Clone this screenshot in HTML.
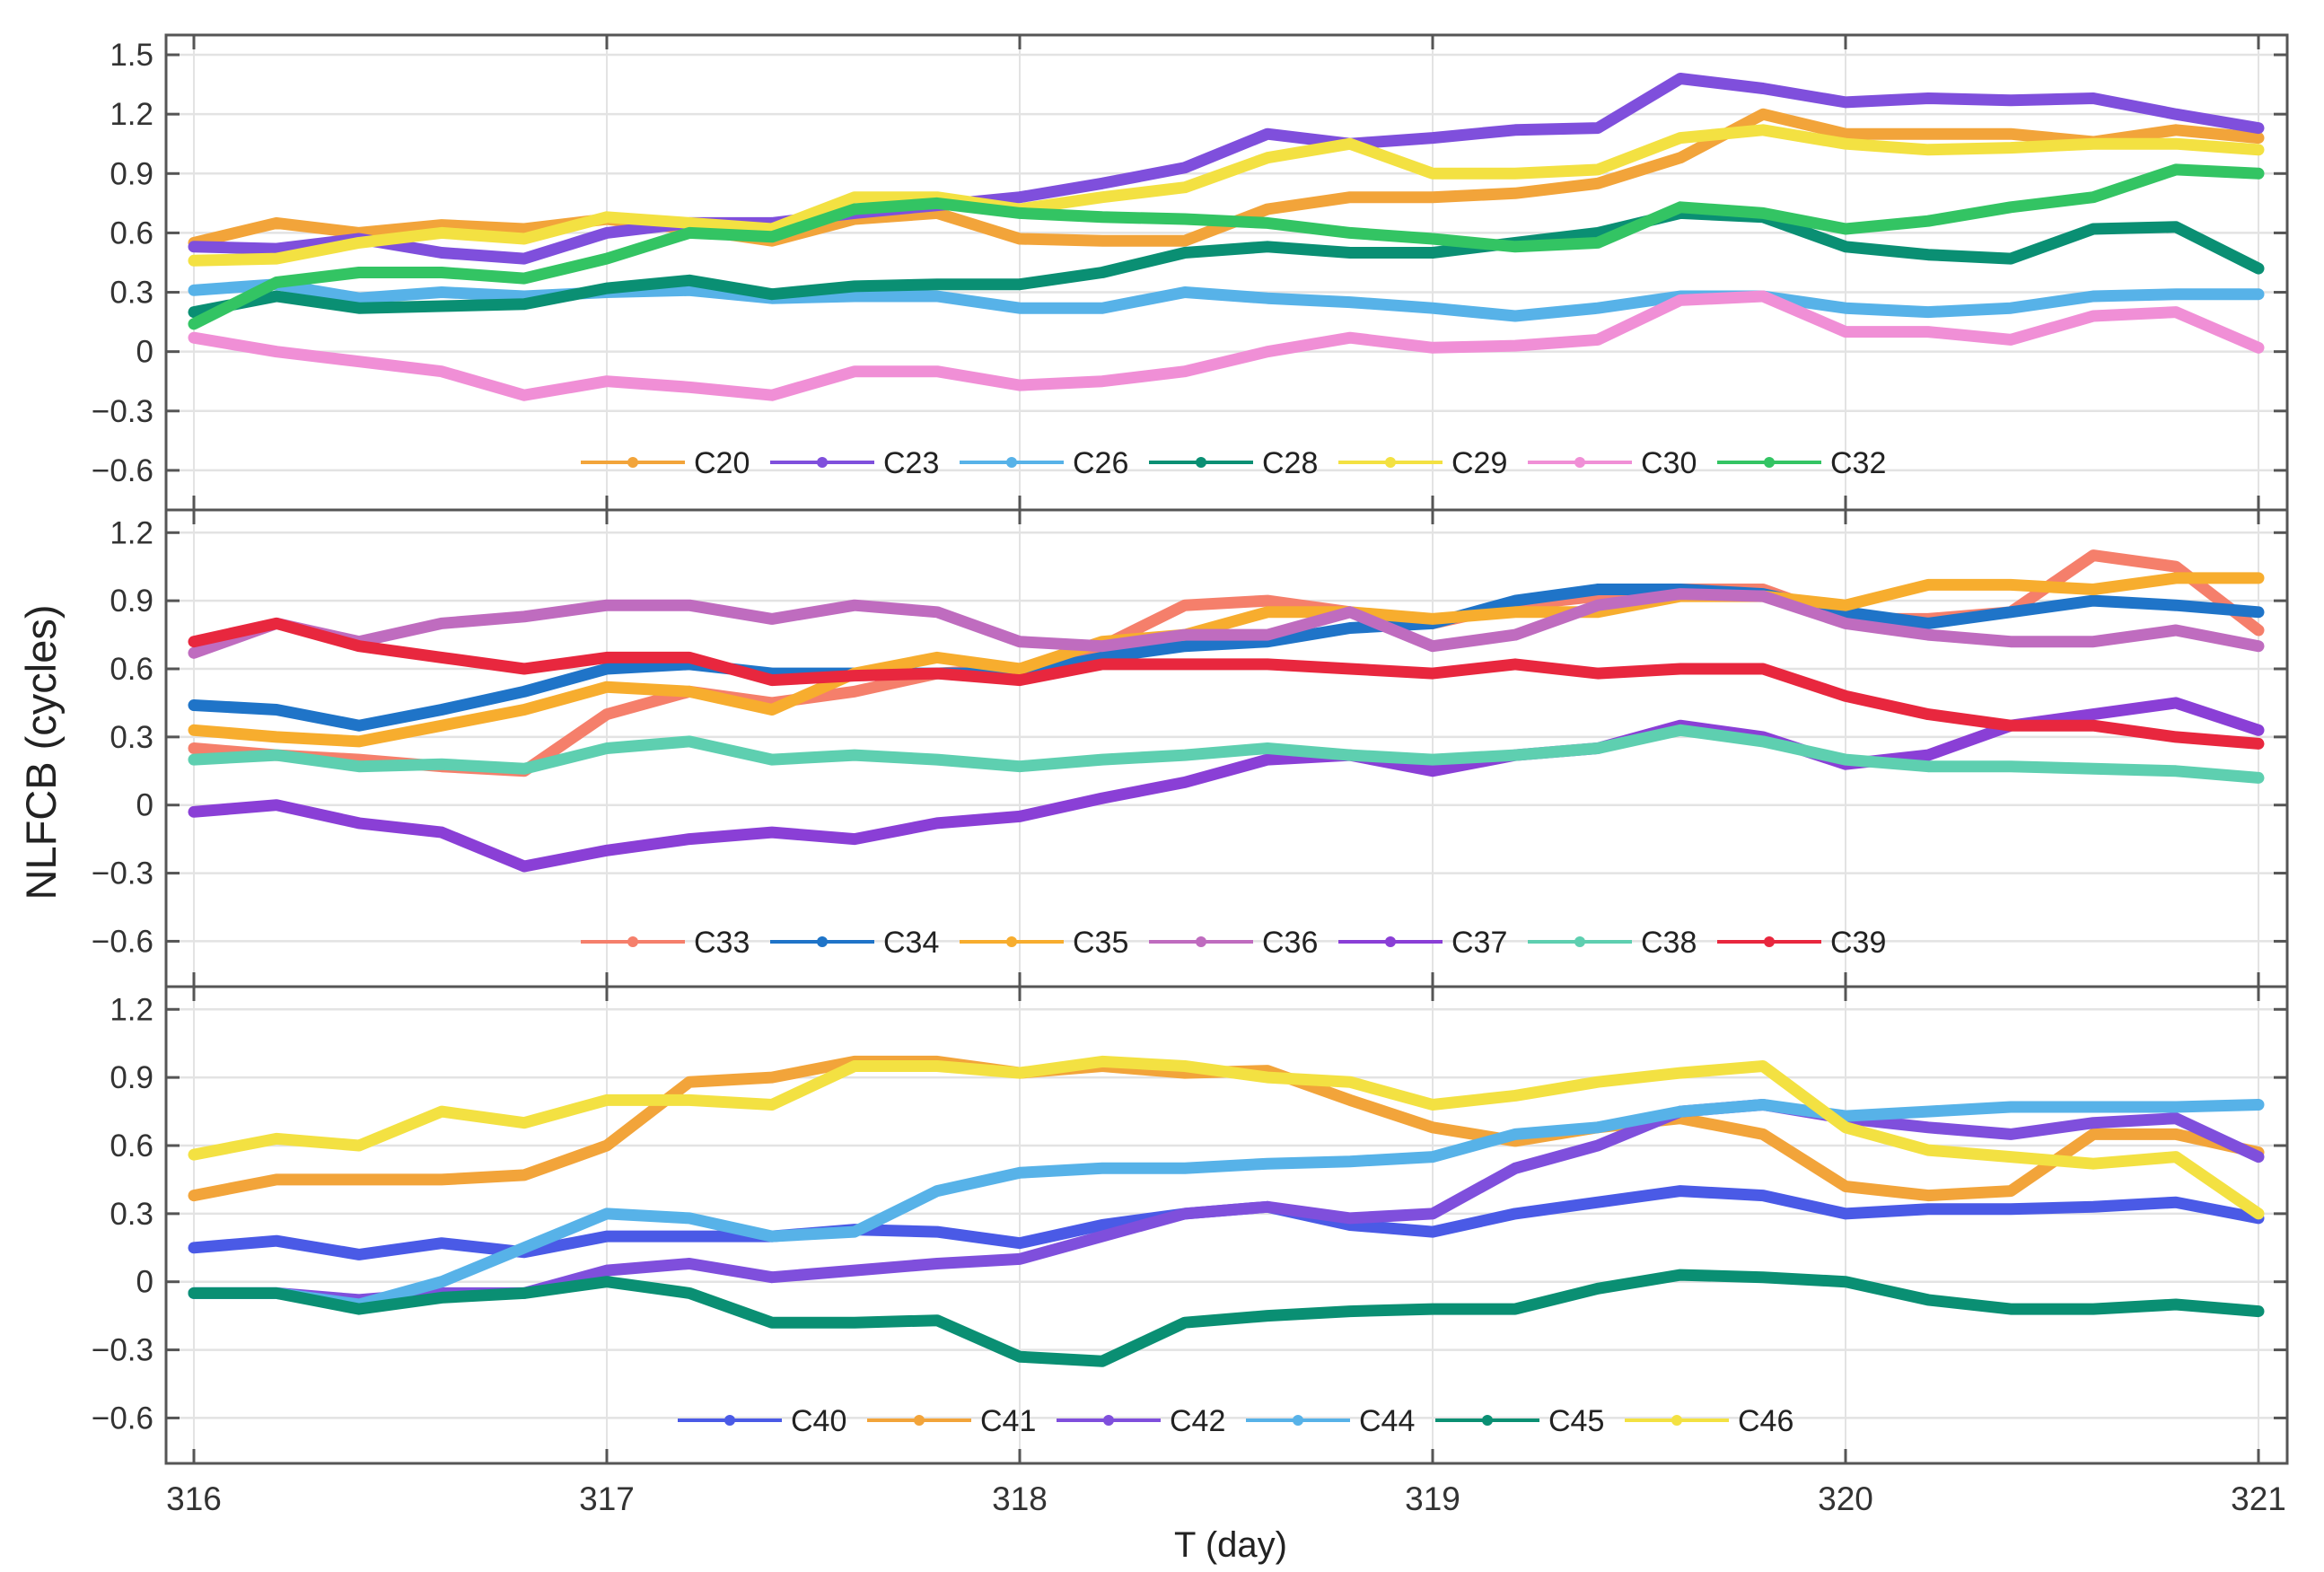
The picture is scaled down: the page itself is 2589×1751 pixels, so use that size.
<!DOCTYPE html>
<html><head><meta charset="utf-8"><style>
html,body{margin:0;padding:0;background:#fff;}
svg{display:block;font-family:"Liberation Sans",Arial,sans-serif;}
</style></head><body>
<svg id="chart" width="2589" height="1751" viewBox="0 0 2589 1751" xmlns="http://www.w3.org/2000/svg">
<text x="0" y="0" transform="translate(62,838) rotate(-90)" text-anchor="middle" font-size="47" fill="#222">NLFCB (cycles)</text>
<text x="1371" y="1734" text-anchor="middle" font-size="40" fill="#222">T (day)</text>
</svg>
<script>
const days = [316,316.2,316.4,316.6,316.8,317,317.2,317.4,317.6,317.8,318,318.2,318.4,318.6,318.8,319,319.2,319.4,319.6,319.8,320,320.2,320.4,320.6,320.8,321];
const xTicks = [316,317,318,319,320,321];
const yTicksTop = [-0.6,-0.3,0,0.3,0.6,0.9,1.2,1.5];
const yTicksLow = [-0.6,-0.3,0,0.3,0.6,0.9,1.2];
const yTickLabels = {"-0.6":"\u22120.6","-0.3":"\u22120.3","0":"0","0.3":"0.3","0.6":"0.6","0.9":"0.9","1.2":"1.2","1.5":"1.5"};

// Panel 1
const p1Names = ["C20","C23","C26","C28","C29","C30","C32"];
const C20 = [0.55,0.65,0.6,0.64,0.62,0.67,0.62,0.56,0.67,0.7,0.57,0.56,0.56,0.72,0.78,0.78,0.8,0.85,0.98,1.2,1.1,1.1,1.1,1.06,1.12,1.08];
const C23 = [0.53,0.52,0.57,0.5,0.47,0.6,0.65,0.65,0.7,0.74,0.78,0.85,0.93,1.1,1.05,1.08,1.12,1.13,1.38,1.33,1.26,1.28,1.27,1.28,1.2,1.13];
const C26 = [0.31,0.34,0.27,0.3,0.28,0.3,0.31,0.27,0.28,0.28,0.22,0.22,0.3,0.27,0.25,0.22,0.18,0.22,0.28,0.28,0.22,0.2,0.22,0.28,0.29,0.29];
const C28 = [0.2,0.28,0.22,0.23,0.24,0.32,0.36,0.29,0.33,0.34,0.34,0.4,0.5,0.53,0.5,0.5,0.55,0.6,0.7,0.68,0.53,0.49,0.47,0.62,0.63,0.42];
const C29 = [0.46,0.47,0.55,0.6,0.57,0.68,0.65,0.62,0.78,0.78,0.72,0.78,0.83,0.98,1.05,0.9,0.9,0.92,1.08,1.12,1.05,1.02,1.03,1.05,1.05,1.02];
const C30 = [0.07,0.0,-0.05,-0.1,-0.22,-0.15,-0.18,-0.22,-0.1,-0.1,-0.17,-0.15,-0.1,0.0,0.07,0.02,0.03,0.06,0.26,0.28,0.1,0.1,0.06,0.18,0.2,0.02];
const C32 = [0.14,0.35,0.4,0.4,0.37,0.47,0.6,0.58,0.72,0.75,0.7,0.68,0.67,0.65,0.6,0.57,0.53,0.55,0.73,0.7,0.62,0.66,0.73,0.78,0.92,0.9];

// Panel 2
const p2Names = ["C33","C34","C35","C36","C37","C38","C39"];
const C33 = [0.25,0.22,0.2,0.17,0.15,0.4,0.5,0.45,0.5,0.58,0.6,0.7,0.88,0.9,0.85,0.8,0.88,0.92,0.95,0.95,0.82,0.82,0.85,1.1,1.05,0.77];
const C34 = [0.44,0.42,0.35,0.42,0.5,0.6,0.62,0.58,0.58,0.58,0.58,0.65,0.7,0.72,0.78,0.8,0.9,0.95,0.95,0.93,0.85,0.8,0.85,0.9,0.88,0.85];
const C35 = [0.33,0.3,0.28,0.35,0.42,0.52,0.5,0.42,0.58,0.65,0.6,0.72,0.75,0.85,0.85,0.82,0.85,0.85,0.92,0.92,0.88,0.97,0.97,0.95,1.0,1.0];
const C36 = [0.67,0.8,0.72,0.8,0.83,0.88,0.88,0.82,0.88,0.85,0.72,0.7,0.75,0.75,0.85,0.7,0.75,0.88,0.93,0.92,0.8,0.75,0.72,0.72,0.77,0.7];
const C37 = [-0.03,0.0,-0.08,-0.12,-0.27,-0.2,-0.15,-0.12,-0.15,-0.08,-0.05,0.03,0.1,0.2,0.22,0.15,0.22,0.25,0.35,0.3,0.18,0.22,0.35,0.4,0.45,0.33];
const C38 = [0.2,0.22,0.17,0.18,0.16,0.25,0.28,0.2,0.22,0.2,0.17,0.2,0.22,0.25,0.22,0.2,0.22,0.25,0.33,0.28,0.2,0.17,0.17,0.16,0.15,0.12];
const C39 = [0.72,0.8,0.7,0.65,0.6,0.65,0.65,0.55,0.57,0.58,0.55,0.62,0.62,0.62,0.6,0.58,0.62,0.58,0.6,0.6,0.48,0.4,0.35,0.35,0.3,0.27];

// Panel 3
const p3Names = ["C40","C41","C42","C44","C45","C46"];
const C40 = [0.15,0.18,0.12,0.17,0.13,0.2,0.2,0.2,0.23,0.22,0.17,0.25,0.3,0.33,0.25,0.22,0.3,0.35,0.4,0.38,0.3,0.32,0.32,0.33,0.35,0.28];
const C41 = [0.38,0.45,0.45,0.45,0.47,0.6,0.88,0.9,0.97,0.97,0.92,0.95,0.92,0.93,0.8,0.68,0.62,0.68,0.72,0.65,0.42,0.38,0.4,0.65,0.65,0.57];
const C42 = [-0.05,-0.05,-0.08,-0.05,-0.05,0.05,0.08,0.02,0.05,0.08,0.1,0.2,0.3,0.33,0.28,0.3,0.5,0.6,0.75,0.78,0.72,0.68,0.65,0.7,0.72,0.55];
const C44 = [-0.05,-0.05,-0.1,0.0,0.15,0.3,0.28,0.2,0.22,0.4,0.48,0.5,0.5,0.52,0.53,0.55,0.65,0.68,0.75,0.78,0.73,0.75,0.77,0.77,0.77,0.78];
const C45 = [-0.05,-0.05,-0.12,-0.07,-0.05,0.0,-0.05,-0.18,-0.18,-0.17,-0.33,-0.35,-0.18,-0.15,-0.13,-0.12,-0.12,-0.03,0.03,0.02,0.0,-0.08,-0.12,-0.12,-0.1,-0.13];
const C46 = [0.56,0.63,0.6,0.75,0.7,0.8,0.8,0.78,0.95,0.95,0.92,0.97,0.95,0.9,0.88,0.78,0.82,0.88,0.92,0.95,0.68,0.58,0.55,0.52,0.55,0.3];

const colors = {C20:"#f2a43a",C23:"#7f4fdc",C26:"#57b2e8",C28:"#0a8f73",C29:"#f3e142",C30:"#f08fd6",C32:"#33c463",
C33:"#f57f6b",C34:"#1f74c8",C35:"#f7ad2e",C36:"#bf6cbf",C37:"#8a3fd6",C38:"#5ecfb0",C39:"#e8273e",
C40:"#4a5ae6",C41:"#f2a43a",C42:"#7f4fdc",C44:"#57b2e8",C45:"#0a8f73",C46:"#f3e142"};

const svg = document.getElementById('chart');
const NS = "http://www.w3.org/2000/svg";
function mk(tag, attrs, parent){const e=document.createElementNS(NS,tag);for(const k in attrs)e.setAttribute(k,attrs[k]);(parent||svg).appendChild(e);return e;}

const L=185, R=2548;
function xs(d){return 216 + (d-316)*460;}

const panels = [
 {top:39,bottom:568,ymin:-0.8,ymax:1.6,ticks:yTicksTop,names:p1Names,series:[C20,C23,C26,C28,C29,C30,C32],legX:647,legY:515},
 {top:568,bottom:1099,ymin:-0.8,ymax:1.3,ticks:yTicksLow,names:p2Names,series:[C33,C34,C35,C36,C37,C38,C39],legX:647,legY:1049},
 {top:1099,bottom:1630,ymin:-0.8,ymax:1.3,ticks:yTicksLow,names:p3Names,series:[C40,C41,C42,C44,C45,C46],legX:755,legY:1582}
];

panels.forEach((p,pi)=>{
  const ys = v => p.bottom - (v-p.ymin)/(p.ymax-p.ymin)*(p.bottom-p.top);
  const g = mk('g',{});
  
  
  p.ticks.forEach(t=>{
    const gl=mk('line',{x1:L,x2:R,y1:ys(t),y2:ys(t),stroke:'#e3e3e3','stroke-width':2.5},g);
    
    
  });
  xTicks.forEach(t=>{
    const gl=mk('line',{x1:xs(t),x2:xs(t),y1:p.top,y2:p.bottom,stroke:'#e3e3e3','stroke-width':2},g);
    
    
  });
  p.series.forEach((vals,si)=>{
    const d = vals.map((v,i)=>(i?'L':'M')+xs(days[i]).toFixed(1)+' '+ys(v).toFixed(1)).join(' ');
    const path = mk('path',{d:d,fill:'none',stroke:colors[p.names[si]],'stroke-width':13,'stroke-linejoin':'round','stroke-linecap':'round'},g);
    
    
  });
  const fr = mk('rect',{x:L,y:p.top,width:R-L,height:p.bottom-p.top,fill:'none',stroke:'#555','stroke-width':3},g);
  
  
  p.ticks.forEach(t=>{
    mk('line',{x1:L,x2:L+15,y1:ys(t),y2:ys(t),stroke:'#555','stroke-width':3},g);
    mk('line',{x1:R,x2:R-15,y1:ys(t),y2:ys(t),stroke:'#555','stroke-width':3},g);
    const tx = mk('text',{x:L-14,y:ys(t)+12,'text-anchor':'end','font-size':35,fill:'#333'},g);
    tx.textContent = yTickLabels[String(t)];
    
    
  });
  xTicks.forEach(t=>{
    mk('line',{x1:xs(t),x2:xs(t),y1:p.top,y2:p.top+16,stroke:'#555','stroke-width':3},g);
    mk('line',{x1:xs(t),x2:xs(t),y1:p.bottom,y2:p.bottom-16,stroke:'#555','stroke-width':3},g);
  });
  const lg = mk('g',{},g);
  
  
  p.names.forEach((n,i)=>{
    const x0 = p.legX + i*211;
    const e = mk('g',{},lg);
    
    
    mk('line',{x1:x0,x2:x0+116,y1:p.legY,y2:p.legY,stroke:colors[n],'stroke-width':4},e);
    mk('circle',{cx:x0+58,cy:p.legY,r:6,fill:colors[n]},e);
    const tx = mk('text',{x:x0+126,y:p.legY+12,'font-size':34,fill:'#222'},e);
    tx.textContent = n;
  });
});
xTicks.forEach(t=>{
  const tx = mk('text',{x:xs(t),y:1682,'text-anchor':'middle','font-size':37,fill:'#333'});
  tx.textContent = String(t);
  
  
});
</script>
</body></html>
